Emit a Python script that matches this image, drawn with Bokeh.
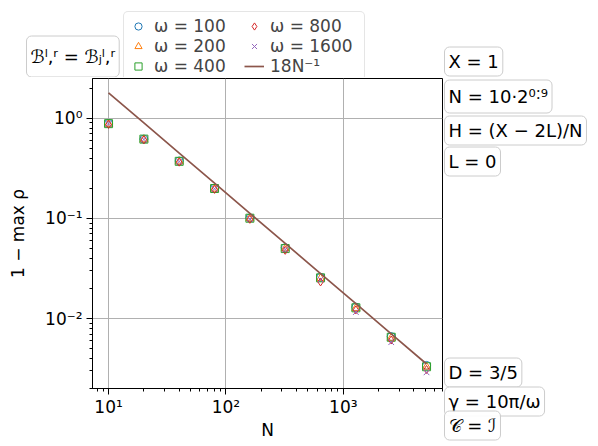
from bokeh.plotting import figure
from bokeh.models import Legend, LegendItem, Label, FixedTicker, Range1d
from bokeh.layouts import row, column
from bokeh.embed import file_html
from bokeh.resources import INLINE

# ---- data ----
N = [10, 20, 40, 80, 160, 320, 640, 1280, 2560, 5120]
omega_labels = ["ω = 100", "ω = 200", "ω = 400", "ω = 800", "ω = 1600"]
rho_w100 = [0.89, 0.62, 0.375, 0.200, 0.101, 0.051, 0.0258, 0.0130, 0.0066, 0.0034]
rho_w200 = [0.88, 0.615, 0.370, 0.198, 0.100, 0.050, 0.0252, 0.0127, 0.0064, 0.0033]
rho_w400 = [0.885, 0.62, 0.372, 0.199, 0.1005, 0.050, 0.0255, 0.0128, 0.0065, 0.0033]
rho_w800 = [0.87, 0.61, 0.365, 0.195, 0.098, 0.048, 0.0232, 0.0122, 0.0061, 0.0031]
rho_w1600 = [0.88, 0.615, 0.370, 0.198, 0.099, 0.049, 0.0245, 0.0116, 0.0058, 0.0029]
ref_line = [1.8, 0.9, 0.45, 0.225, 0.1125, 0.05625, 0.028125, 0.0140625, 0.00703125, 0.003515625]
ref_label = "18N⁻¹"

x_major = [10, 100, 1000]
x_major_labels = ["10¹", "10²", "10³"]
y_major = [0.01, 0.1, 1]
y_major_labels = ["10⁻²", "10⁻¹", "10⁰"]

left_box = "ℬˡ,ʳ = ℬⱼˡ,ʳ"
right_top_boxes = ["X = 1", "N = 10·2⁰˸⁹", "H = (X − 2L)/N", "L = 0"]
right_bottom_boxes = ["D = 3/5", "γ = 10π/ω", "𝒞 = ℐ"]

FONT = "DejaVu Sans"
colors = ["#1f77b4", "#ff7f0e", "#2ca02c", "#d62728", "#9467bd"]
markers = ["circle", "triangle", "square", "diamond", "x"]
series = [rho_w100, rho_w200, rho_w400, rho_w800, rho_w1600]
line_color = "#8c564b"

# ---------------- main plot ----------------
p = figure(frame_width=350, frame_height=310, x_axis_type="log", y_axis_type="log",
           x_range=Range1d(7.3, 7000), y_range=Range1d(0.002, 2.5),
           output_backend="svg", toolbar_location=None,
           min_border_left=92, min_border_right=1, min_border_top=1, min_border_bottom=50)
p.outline_line_color = "black"
p.outline_line_width = 1
p.grid.grid_line_color = "#b0b0b0"
p.grid.grid_line_width = 1

def minor(lo_exp, hi_exp):
    out = []
    for e in range(lo_exp, hi_exp + 1):
        for m in range(2, 10):
            out.append(m * 10.0 ** e)
    return out

p.xaxis.ticker = FixedTicker(ticks=x_major, minor_ticks=minor(0, 3))
p.yaxis.ticker = FixedTicker(ticks=y_major, minor_ticks=minor(-3, 0))
p.xaxis.major_label_overrides = {t: l for t, l in zip(x_major, x_major_labels)}
p.yaxis.major_label_overrides = {t: l for t, l in zip(y_major, y_major_labels)}
for ax in (p.xaxis, p.yaxis):
    ax.major_label_text_font = FONT
    ax.major_label_text_font_size = "17px"
    ax.major_label_text_color = "black"
    ax.axis_label_text_font = FONT
    ax.axis_label_text_font_size = "17px"
    ax.axis_label_text_font_style = "normal"
    ax.axis_label_text_color = "black"
    ax.major_tick_out = 6
    ax.major_tick_in = 0
    ax.minor_tick_out = 3
    ax.minor_tick_in = 0
    ax.axis_line_color = "black"
    ax.major_tick_line_color = "black"
    ax.minor_tick_line_color = "black"
p.xaxis.axis_label = "N"
p.yaxis.axis_label = "1 − max ρ"
p.xaxis.major_label_standoff = 2
p.xaxis.axis_label_standoff = 0
p.yaxis.major_label_standoff = 4
p.yaxis.axis_label_standoff = 14

for vals, c, m in zip(series, colors, markers):
    p.scatter(N, vals, marker=m, size=8, fill_color=None, line_color=c, line_width=1)
p.line(N, ref_line, line_color=line_color, line_width=1.7)

lab_props = Label.properties()

def box(fig, text, x, y, size="18px", vpad=4):
    kw = dict(x=x, y=y, x_units="screen", y_units="screen", text=text,
              text_font=FONT, text_font_size=size, text_align="left", text_baseline="middle",
              text_color="black",
              border_line_color="#cccccc", border_line_width=1,
              background_fill_color="white", background_fill_alpha=0.9)
    if "border_radius" in lab_props:
        kw["border_radius"] = 5
    lab = Label(**kw)
    if "padding" in lab_props:
        try:
            lab.padding = dict(left=4, right=4, top=vpad, bottom=vpad)
        except Exception:
            lab.padding = 4
    fig.add_layout(lab)

def blank(w, h):
    f = figure(width=w, height=h, x_range=Range1d(0, w), y_range=Range1d(0, h),
               x_axis_location=None, y_axis_location=None,
               output_backend="svg", toolbar_location=None,
               min_border_left=0, min_border_right=0, min_border_top=0, min_border_bottom=0)
    f.outline_line_color = None
    f.grid.visible = False
    return f

# ---------------- top strip: legend + left box ----------------
top = blank(443, 77)
dummies = []
for c, m in zip(colors, markers):
    dummies.append(top.scatter([-100], [-100], marker=m, size=8, fill_color=None,
                               line_color=c, line_width=1))
dl = top.line([-100, -90], [-100, -100], line_color=line_color, line_width=1.7)
items = [LegendItem(label=l, renderers=[r]) for l, r in zip(omega_labels, dummies)]
items.append(LegendItem(label=ref_label, renderers=[dl]))
legend = Legend(items=items, ncols=2, location=(123, -4),
                label_text_font=FONT, label_text_font_size="17px",
                glyph_width=20, glyph_height=18, label_height=18, label_standoff=6,
                label_width=90, spacing=0, padding=4, margin=0,
                border_line_color="#cccccc", border_line_width=1,
                background_fill_color="white", background_fill_alpha=0.9)
if "border_radius" in Legend.properties():
    legend.border_radius = 5
top.add_layout(legend, "center")
box(top, left_box, 26, 21, vpad=10)

# ---------------- right strip: parameter boxes ----------------
right = blank(155, 446)
for t, y, vp in zip(right_top_boxes, [385, 350, 316, 285], [4, 6, 4, 4]):
    box(right, t, 1, y, vpad=vp)
for t, y in zip(right_bottom_boxes, [74, 45, 21]):
    box(right, t, 1, y)

layout = row(column(row(top), p), right)
open("out.html", "w").write(file_html(layout, INLINE))
